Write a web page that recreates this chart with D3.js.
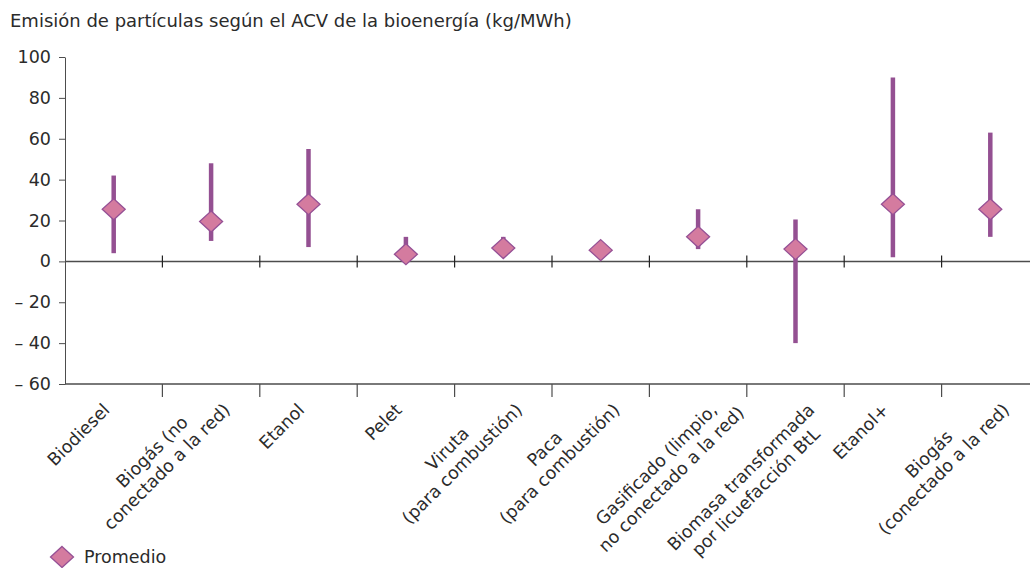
<!DOCTYPE html>
<html><head><meta charset="utf-8">
<script src="https://cdn.jsdelivr.net/npm/d3@7"></script>
<style>
html,body{margin:0;padding:0;background:#fff;}
svg{display:block;font-family:"DejaVu Sans",Verdana,sans-serif;}
</style></head>
<body>
<svg id="chart" width="1030" height="568"></svg>
<script>
const title = "Emisión de partículas según el ACV de la bioenergía (kg/MWh)";
const categories = [
  ["Biodiesel"],
  ["Biogás (no", "conectado a la red)"],
  ["Etanol"],
  ["Pelet"],
  ["Viruta", "(para combustión)"],
  ["Paca", "(para combustión)"],
  ["Gasificado (limpio,", "no conectado a la red)"],
  ["Biomasa transformada", "por licuefacción BtL"],
  ["Etanol+"],
  ["Biogás", "(conectado a la red)"]
];
const meanValues = [25.5, 19.5, 28, 3.5, 6.5, 5.5, 12, 6, 28, 25.5];
const minValues  = [4, 10, 7, 1, 4, 3, 6, -40, 2, 12];
const maxValues  = [42, 48, 55, 12, 12, 8, 25.5, 20.5, 90, 63];
const yTicks = [100, 80, 60, 40, 20, 0, -20, -40, -60];
const legendLabel = "Promedio";

const svg = d3.select("#chart");
const ids = categories.map((c, i) => i);
const x = d3.scaleBand().domain(ids).range([65, 1039]).padding(0);
const y = d3.scaleLinear().domain([-60, 100]).range([384, 57]);

const axisColor = "#4d4d4d";
const textColor = "#2b2b2b";
const barColor = "#945092";
const fillColor = "#d47b9f";
const strokeColor = "#955095";
const fs = 17.5;

// title
svg.append("text").attr("x", 10).attr("y", 27).attr("font-size", 18)
  .attr("fill", textColor).text(title);

// y axis
const yAxis = svg.append("g").attr("transform", "translate(65,0)")
  .call(d3.axisLeft(y).tickValues(yTicks).tickSize(6).tickSizeOuter(0)
    .tickFormat(d => d < 0 ? "– " + Math.abs(d) : String(d)));
yAxis.select(".domain").attr("stroke", axisColor);
yAxis.selectAll(".tick line").attr("stroke", axisColor);
yAxis.selectAll(".tick text").attr("font-size", fs).attr("fill", textColor)
  .attr("font-family", "DejaVu Sans, Verdana, sans-serif").attr("x", -14);

// zero line with crossing ticks
const y0 = y(0);
svg.append("line").attr("x1", 65).attr("x2", 1039).attr("y1", y0).attr("y2", y0)
  .attr("stroke", axisColor).attr("stroke-width", 1.5);
svg.append("g").selectAll("line").data(ids.slice(1)).join("line")
  .attr("x1", d => x(d)).attr("x2", d => x(d))
  .attr("y1", y0 - 6).attr("y2", y0 + 6)
  .attr("stroke", "#222").attr("stroke-width", 1.2);

// bottom line with ticks
const yb = y(-60);
svg.append("line").attr("x1", 65).attr("x2", 1039).attr("y1", yb).attr("y2", yb)
  .attr("stroke", axisColor).attr("stroke-width", 1.5);
svg.append("g").selectAll("line").data(ids.slice(1)).join("line")
  .attr("x1", d => x(d)).attr("x2", d => x(d))
  .attr("y1", yb).attr("y2", yb + 13)
  .attr("stroke", axisColor).attr("stroke-width", 1.2);

// range bars
const cx = i => x(i) + x.bandwidth() / 2;
svg.append("g").selectAll("line").data(ids).join("line")
  .attr("x1", cx).attr("x2", cx)
  .attr("y1", i => y(maxValues[i])).attr("y2", i => y(minValues[i]))
  .attr("stroke", barColor).attr("stroke-width", 4.5);

// diamonds
const hw = 11.5, hh = 10.5;
const diamond = (px, py) => `M${px},${py - hh}L${px + hw},${py}L${px},${py + hh}L${px - hw},${py}Z`;
svg.append("g").selectAll("path").data(ids).join("path")
  .attr("d", i => diamond(cx(i), y(meanValues[i])))
  .attr("fill", fillColor).attr("stroke", strokeColor).attr("stroke-width", 1.3);

// category labels (rotated -45°, lines centred, topmost line end anchored near the tick)
const lh = 21, cap = 0.73 * fs, k = Math.SQRT1_2;
categories.forEach((lines, i) => {
  const g = svg.append("g");
  const t = g.append("text").attr("font-size", fs).attr("fill", textColor)
    .attr("text-anchor", "middle");
  const n = lines.length;
  lines.forEach((ln, j) => {
    t.append("tspan").attr("x", 0).attr("y", -(n - 1 - j) * lh).text(ln);
  });
  const widths = [];
  t.selectAll("tspan").each(function(){ widths.push(this.getComputedTextLength()); });
  const W = d3.max(widths);
  t.selectAll("tspan").attr("x", -W / 2);
  let best = null;
  widths.forEach((w, j) => {
    const ex = -W / 2 + w / 2, by = -(n - 1 - j) * lh - cap;
    const X = k * (ex + by), Y = k * (by - ex);
    if (!best || Y < best.Y) best = {X, Y};
  });
  const ax = cx(i) + (n === 1 ? -12 : 11), ay = 402;
  g.attr("transform", `translate(${ax - best.X},${ay - best.Y}) rotate(-45)`);
});

// legend
svg.append("path").attr("d", diamond(62, 557))
  .attr("fill", fillColor).attr("stroke", strokeColor).attr("stroke-width", 1.3);
svg.append("text").attr("x", 84).attr("y", 563).attr("font-size", fs)
  .attr("fill", textColor).text(legendLabel);
</script>
</body></html>
